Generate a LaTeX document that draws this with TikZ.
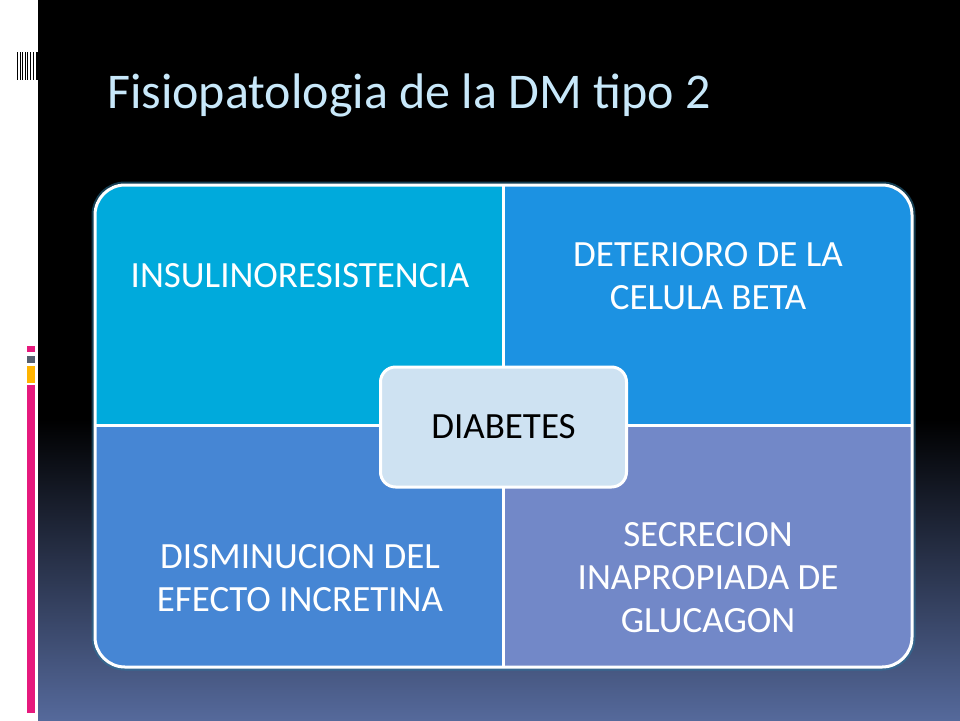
\documentclass[tikz,border=0pt]{standalone}
\usepackage{fontspec}
\setmainfont{Carlito}
\begin{document}
\begin{tikzpicture}[x=1pt,y=-1pt,
  outer/.style={rounded corners=30},
  lbl/.style={text=white,font=\fontsize{37}{43}\selectfont,align=center}]
\definecolor{tl}{RGB}{0,170,220}
\definecolor{tr}{RGB}{28,146,226}
\definecolor{bl}{RGB}{70,134,212}
\definecolor{br}{RGB}{114,136,200}
\definecolor{ctr}{RGB}{206,226,242}
\definecolor{ttl}{RGB}{200,232,250}
\definecolor{bgbot}{RGB}{85,105,155}
\definecolor{pinkc}{RGB}{230,25,125}
\definecolor{grayc}{RGB}{85,95,110}
\definecolor{orangec}{RGB}{255,180,0}
\definecolor{glowc}{RGB}{40,120,160}
\useasboundingbox (0,0) rectangle (960,720);
\fill[white] (0,0) rectangle (38,720);
\fill[black] (38,0) rectangle (960,420);
\shade[top color=black,bottom color=bgbot] (38,419) rectangle (960,720);
\foreach \xx in {17,20,22,25,27,30,33,36}{\fill[black] (\xx,52) rectangle (\xx+1.2,80);}
\fill[black] (37,52) rectangle (38,80);
\fill[pinkc] (27,346) rectangle (35,352);
\fill[grayc] (27,356) rectangle (35,363);
\fill[orangec] (27,366) rectangle (35,383);
\fill[pinkc] (27,385) rectangle (35,713);
\node[anchor=base west,text=ttl,font=\fontsize{50}{56}\selectfont,inner sep=0] (title) at (107,108) {Fisiopatologia de la DM tipo 2};
\draw[glowc,line width=7pt,opacity=0.5,outer] (95,185) rectangle (912,667);
\begin{scope}\clip (95,185) rectangle (503,425); \fill[tl,outer] (95,185) rectangle (912,667);\end{scope}
\begin{scope}\clip (503,185) rectangle (912,425); \fill[tr,outer] (95,185) rectangle (912,667);\end{scope}
\begin{scope}\clip (95,425) rectangle (503,667); \fill[bl,outer] (95,185) rectangle (912,667);\end{scope}
\begin{scope}\clip (503,425) rectangle (912,667); \fill[br,outer] (95,185) rectangle (912,667);\end{scope}
\draw[white,line width=3pt] (503,185) -- (503,667) (95,425) -- (912,425);
\draw[white,line width=3pt,outer] (95,185) rectangle (912,667);
\node[lbl] (a) at (300,276) {INSULINORESISTENCIA};
\node[lbl] (b) at (708,276) {DETERIORO DE LA\\CELULA BETA};
\node[lbl] (c) at (300,578) {DISMINUCION DEL\\EFECTO INCRETINA};
\node[lbl] (d) at (708,578) {SECRECION\\INAPROPIADA DE\\GLUCAGON};
\node[draw=white,line width=3pt,fill=ctr,rounded corners=15,minimum width=246,minimum height=120,font=\fontsize{37}{40}\selectfont,text=black] (e) at (503.5,427) {DIABETES};
\end{tikzpicture}
\end{document}
